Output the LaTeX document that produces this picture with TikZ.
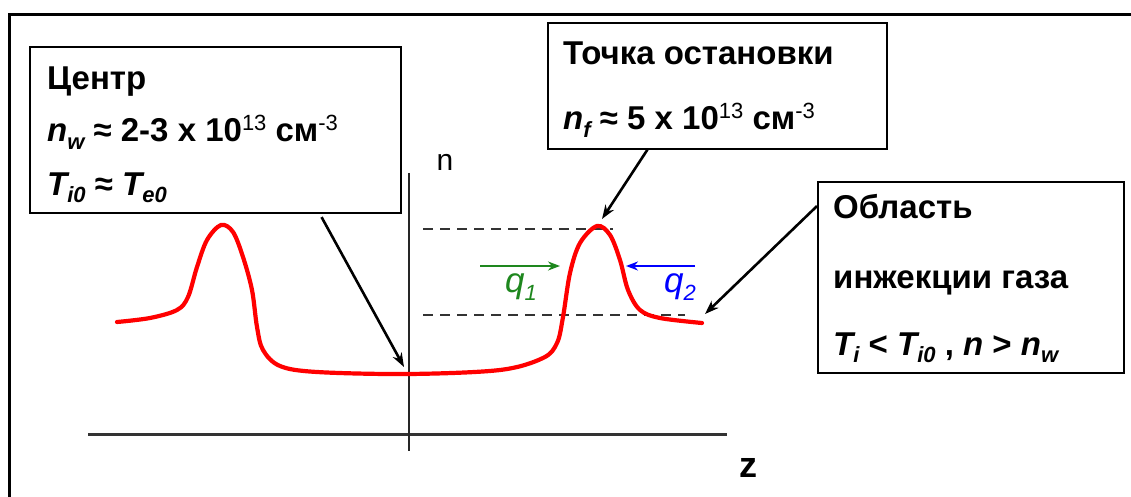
\documentclass[tikz,border=0pt]{standalone}
\usepackage{fontspec}
\setmainfont{Liberation Sans}
\usetikzlibrary{arrows.meta,calc}
\newcommand{\mysub}[1]{\raisebox{-7.5pt}{\fontsize{22}{22}\selectfont #1}}
\newcommand{\mysupr}[1]{\raisebox{11pt}{\fontsize{22}{22}\selectfont\mdseries\upshape #1}}
\definecolor{qgreen}{RGB}{30,135,30}
\begin{document}
\begin{tikzpicture}[x=1pt,y=-1pt,
  boxnode/.style={draw, line width=1.6pt, anchor=north west, inner sep=0pt, rectangle},
  txt/.style={anchor=base west, inner sep=0pt, font=\fontsize{33}{38}\selectfont\bfseries},
  qtxt/.style={anchor=center, inner sep=0pt, font=\fontsize{35}{38}\selectfont\itshape},
  pointer/.style={line width=2.6pt, -{Stealth[length=14pt,width=10pt]}},
  axisline/.style={line width=3pt, black!80},
  dashline/.style={line width=2.6pt, black!80, dash pattern=on 10pt off 7pt},
  flux/.style={line width=2.6pt, -{Stealth[length=12pt,width=9pt]}}]
\useasboundingbox (0,0) rectangle (1131,497);
% outer frame (top and left edges visible)
\draw[line width=3.2pt, line join=miter] (9.7,497) -- (9.7,14.5) -- (1131,14.5);

% axes
\draw[axisline] (88,434) -- (727,434);
\draw[line width=2.6pt, black!85] (409,173) -- (409,451);
\node[inner sep=0pt, font=\fontsize{30}{32}\selectfont] (nlab) at (445,162) {n};
\node[inner sep=0pt, font=\fontsize{36}{38}\selectfont\bfseries] (zlab) at (748,468) {z};

% dashed levels
\draw[dashline] (423,229) -- (613,229);
\draw[dashline] (423,315) -- (685,315);

% profile
\draw[red, line width=4.2pt, line cap=round] plot[smooth, tension=0.55] coordinates {
 (117,322) (150,318) (177,310) (188,297) (197,267) (207,240) (221,225) (233,232)
 (243,257) (252,290) (257,327) (263,350) (280,366) (317,372) (409,374)
 (500,370) (543,358) (557,343) (563,317) (570,273) (580,243) (597,226) (610,235)
 (620,260) (628,290) (640,310) (660,318) (702,323)};

% named targets
\coordinate (cbottom) at (404,367);
\coordinate (cpeak) at (602,219);
\coordinate (ctail) at (705,314);

% fluxes
\coordinate (g1) at (480,266);
\coordinate (g2) at (560,266);
\coordinate (b1) at (695,266);
\coordinate (b2) at (626,266);
\draw[flux, qgreen] (g1) -- (g2);
\draw[flux, blue] (b1) -- (b2);
\node[qtxt, text=qgreen] (q1) at (521,287) {q\mysub{1}};
\node[qtxt, text=blue] (q2) at (680,287) {q\mysub{2}};

% boxes
\node[boxnode, minimum width=371pt, minimum height=166pt] (box1) at (29,46) {};
\node[boxnode, minimum width=339pt, minimum height=126pt] (box2) at (547,22) {};
\node[boxnode, minimum width=306pt, minimum height=191pt] (box3) at (817,181) {};

\node[txt] (t11) at (47,90) {Центр};
\node[txt] (t12) at (47,142) {{\itshape n\mysub{w}} ≈ 2-3 x 10\mysupr{13} см\mysupr{-3}};
\node[txt] (t13) at (47,195) {{\itshape T\mysub{i0}} ≈ {\itshape T\mysub{e0}}};

\node[txt] (t21) at (563,65) {Точка остановки};
\node[txt] (t22) at (563,130) {{\itshape n\mysub{f}} ≈ 5 x 10\mysupr{13} см\mysupr{-3}};

\node[txt] (t31) at (833,218) {Область};
\node[txt] (t32) at (833,288) {инжекции газа};
\node[txt] (t33) at (833,355) {{\itshape T\mysub{i}} < {\itshape T\mysub{i0}} , {\itshape n} > {\itshape n\mysub{w}}};

% pointers
\draw[pointer, shorten <=4pt] ($(box1.south west)!0.78!(box1.south east)$) -- (cbottom);
\draw[pointer] ($(box2.south west)!0.295!(box2.south east)$) -- (cpeak);
\draw[pointer] ($(box3.north west)!0.13!(box3.south west)$) -- (ctail);
\end{tikzpicture}
\end{document}
